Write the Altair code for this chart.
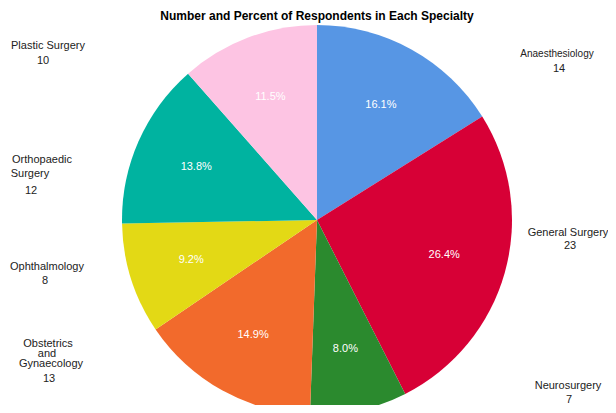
import altair as alt
import pandas as pd

# ---- data ----
categories = ["Anaesthesiology", "General Surgery", "Neurosurgery",
              "Obstetrics and Gynaecology", "Ophthalmology",
              "Orthopaedic Surgery", "Plastic Surgery"]
counts = [14, 23, 7, 13, 8, 12, 10]
colors = ["#5796e4", "#d70036", "#2b8a2e", "#f26a2c", "#e3d915", "#00b3a0", "#fdc4e3"]
title_text = "Number and Percent of Respondents in Each Specialty"

# ---- layout of outer labels (page pixel coordinates) ----
name_lines = [["Anaesthesiology"], ["General Surgery"], ["Neurosurgery"],
              ["Obstetrics", "and", "Gynaecology"], ["Ophthalmology"],
              ["Orthopaedic", "Surgery"], ["Plastic Surgery"]]
line_pos = [[(557, 54)], [(568, 233)], [(568, 386)],
            [(48, 344), (47, 354), (51, 364)], [(47, 267)],
            [(42, 160), (30, 174)], [(48, 46)]]
line_size = [10, 11, 11, 11, 11, 11, 11]
count_pos = [(559, 69), (570, 246), (569, 400), (49, 379), (45, 281), (31, 191), (43, 61)]

W, H = 600, 375          # plot area
PAD_TOP = 22
X0, Y0 = 8, 8 + PAD_TOP  # page position of plot origin
CX, CY, R = 317 - X0, 220 - Y0, 195

pie_df = pd.DataFrame({"cat": categories, "n": counts, "order": list(range(len(counts)))})

lab_rows = []
for i, c in enumerate(categories):
    for txt, (px, py) in zip(name_lines[i], line_pos[i]):
        lab_rows.append({"t": txt, "px": px, "py": py, "fs": line_size[i]})
    lab_rows.append({"t": str(counts[i]), "px": count_pos[i][0], "py": count_pos[i][1], "fs": 11})
lab_df = pd.DataFrame(lab_rows)

base = alt.Chart(pie_df).encode(
    theta=alt.Theta("n:Q", stack=True),
    order=alt.Order("order:Q"),
)

pie = base.mark_arc(outerRadius=R).encode(
    color=alt.Color("cat:N", scale=alt.Scale(domain=categories, range=colors), legend=None),
    x=alt.value(CX), y=alt.value(CY),
)

pct = base.transform_joinaggregate(total="sum(n)").transform_calculate(
    pct="format(datum.n / datum.total, '.1%')"
).mark_text(radius=132, color="white", fontSize=11, font="Liberation Sans").encode(
    text="pct:N", x=alt.value(CX), y=alt.value(CY),
)

labels = alt.Chart(lab_df).mark_text(font="Liberation Sans", color="#222222", baseline="middle", align="center").encode(
    x=alt.X("px:Q", scale=alt.Scale(domain=[X0, X0 + W], zero=False, nice=False), axis=None),
    y=alt.Y("py:Q", scale=alt.Scale(domain=[Y0, Y0 + H], zero=False, nice=False, reverse=True), axis=None),
    text="t:N",
    size=alt.Size("fs:Q", scale=None, legend=None),
)

chart = alt.layer(pie, pct, labels).properties(
    width=W, height=H,
    autosize=alt.AutoSizeParams(type="none"),
    padding={"left": 0, "top": PAD_TOP, "right": 0, "bottom": 0},
    title=alt.Title(title_text, anchor="middle", dx=9, offset=2,
                    fontSize=12, fontWeight="bold", font="Liberation Sans", color="#000000"),
).configure_view(stroke=None)

chart.save("out.html", embed_options={"renderer": "svg", "actions": False})
